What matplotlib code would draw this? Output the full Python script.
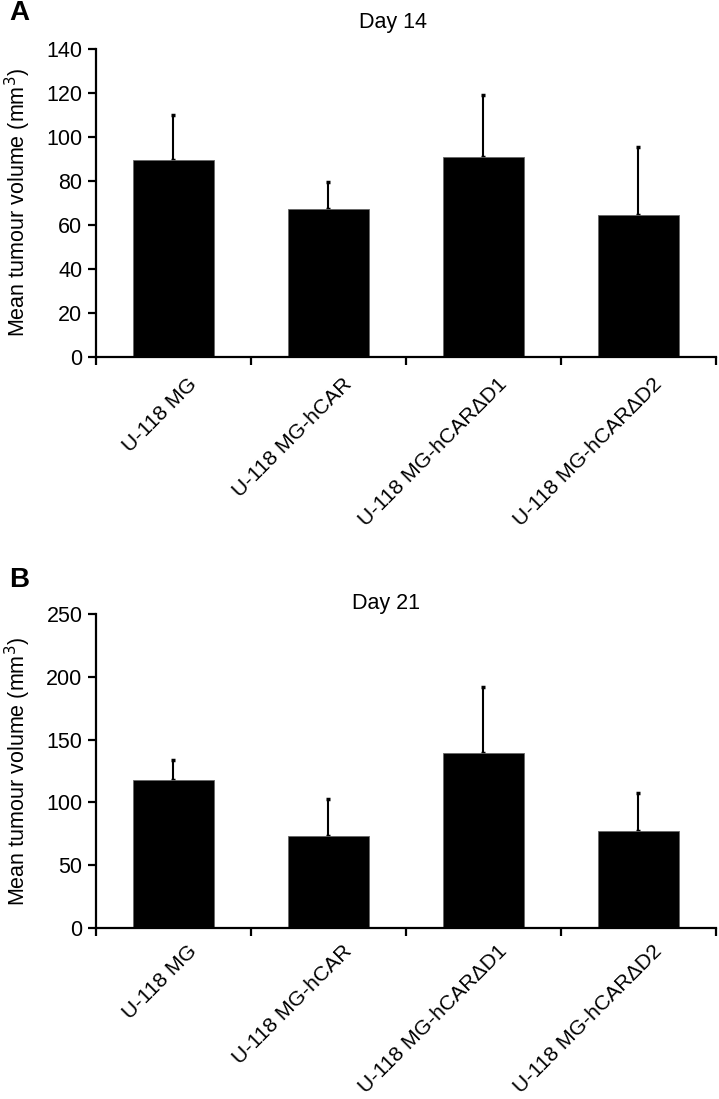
import matplotlib
matplotlib.use('Agg')
import matplotlib.pyplot as plt
import matplotlib.transforms as mtransforms

cells = ['U-118 MG', 'U-118 MG-hCAR', 'U-118 MG-hCAR\u0394D1', 'U-118 MG-hCAR\u0394D2']

# day 14: mean volume and upper error
day14_mean = [89.7, 67.3, 91.1, 64.4]
day14_err = [20.3, 12.2, 28.1, 31.2]

# day 21
day21_mean = [117.7, 73.2, 139.2, 77.1]
day21_err = [16.4, 29.9, 53.0, 30.0]

plt.rcParams['font.family'] = ['Liberation Sans', 'DejaVu Sans']

fig = plt.figure(figsize=(7.19, 10.99), dpi=100)


def panel(rect, mean, err, ymax, step, title, title_x, title_pad, label_pad, letter, letter_y):
    ax = fig.add_axes(rect)
    x = list(range(len(mean)))
    ax.bar(x, mean, width=0.52, color='black', edgecolor='#666666', linewidth=0.6, zorder=2)
    ax.errorbar(x, mean, yerr=[[0] * len(err), err], fmt='none', ecolor='black',
                elinewidth=1.5, capsize=1.5, capthick=2.5, zorder=1)
    ax.set_xlim(-0.5, len(mean) - 0.5)
    ax.set_ylim(0, ymax)
    ax.set_yticks(range(0, ymax + 1, step))
    for s in ['top', 'right']:
        ax.spines[s].set_visible(False)
    for s in ['left', 'bottom']:
        ax.spines[s].set_linewidth(1.6)
    ax.set_xticks([i - 0.5 for i in range(len(mean) + 1)])
    ax.set_xticklabels([])
    ax.tick_params(axis='x', which='major', direction='out', length=5.5, width=1.6)
    ax.tick_params(axis='y', direction='out', length=5.8, width=1.6, pad=4, labelsize=15.5)
    ax.set_xticks(x, cells, minor=True)
    ax.tick_params(axis='x', which='minor', length=0, pad=label_pad)
    shift = mtransforms.ScaledTranslation(0.14, 0, fig.dpi_scale_trans)
    for lab in ax.get_xticklabels(minor=True):
        lab.set_rotation(45)
        lab.set_rotation_mode('anchor')
        lab.set_ha('right')
        lab.set_va('top')
        lab.set_fontsize(15.2)
        lab.set_transform(lab.get_transform() + shift)
    ax.set_ylabel('Mean tumour volume (mm$^3$)', fontsize=15.5)
    ax.yaxis.set_label_coords(-0.1016, 0.5)
    ax.set_title(title, fontsize=15.5, x=title_x, pad=title_pad)
    fig.text(0.0125, letter_y, letter, fontsize=20, fontweight='bold',
             va='center', ha='left')
    return ax


panel([0.1335, 0.6752, 0.8623, 0.2803], day14_mean, day14_err, 140, 20,
      'Day 14', 0.479, 15, 13, 'A', 0.988)
panel([0.1335, 0.1556, 0.8623, 0.2857], day21_mean, day21_err, 250, 50,
      'Day 21', 0.468, 1.5, 10, 'B', 0.472)

fig.savefig('out.png', dpi=100)
